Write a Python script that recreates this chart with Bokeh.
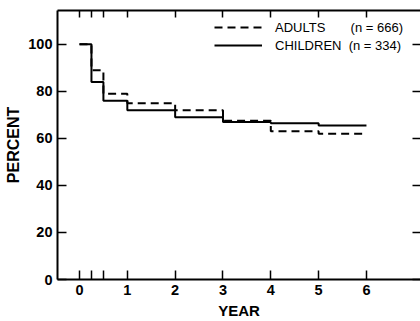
from bokeh.plotting import figure
from bokeh.models import LinearAxis, FixedTicker, Legend, LegendItem, Range1d
from bokeh.embed import file_html
from bokeh.resources import INLINE

# Data (Kaplan-Meier style step curves)
years = [0, 0.25, 0.5, 1, 2, 3, 4, 5, 6]
adults_pct = [100, 89, 79, 75, 72, 67.5, 63, 62, 62]
children_pct = [100, 84, 76, 72, 69, 67, 66.5, 65.5, 65.5]
x_ticks = [0, 0.25, 0.5, 1, 2, 3, 4, 5, 6]
x_labels = {0.25: "", 0.5: ""}
y_ticks = [0, 20, 40, 60, 80, 100]
adults_label = "ADULTS       (n = 666)"
children_label = "CHILDREN  (n = 334)"

FONT = "Liberation Sans"

p = figure(width=420, height=321, output_backend="svg", toolbar_location=None,
           x_range=Range1d(-0.46, 7.13), y_range=Range1d(0, 114.4),
           x_axis_location=None, y_axis_location=None,
           min_border_left=57, min_border_right=0, min_border_top=10, min_border_bottom=40)
p.outline_line_color = None
p.grid.visible = False
p.background_fill_color = "white"
p.border_fill_color = "white"

r_ad = p.step(years, adults_pct, mode="after", line_color="black", line_width=2,
              line_dash="8 5")
r_ch = p.step(years, children_pct, mode="after", line_color="black", line_width=2)

def style(ax, labels=True):
    ax.axis_line_color = "black"
    ax.axis_line_width = 2
    ax.major_tick_line_width = 1.5
    ax.major_tick_in = 9
    ax.major_tick_out = 0
    ax.minor_tick_line_color = None
    ax.major_label_text_font = FONT
    ax.major_label_text_font_style = "bold"
    ax.major_label_text_font_size = "14.5px"
    ax.major_label_text_color = "black"
    ax.major_label_standoff = 5 if labels else 0
    ax.axis_label_text_font = FONT
    ax.axis_label_text_font_style = "bold"
    ax.axis_label_text_font_size = "15px"
    ax.axis_label_text_color = "black"

xb = LinearAxis(ticker=FixedTicker(ticks=x_ticks), axis_label="YEAR",
                major_label_overrides=x_labels)
style(xb)
xb.axis_label_standoff = 4
p.add_layout(xb, "below")

xt = LinearAxis(ticker=FixedTicker(ticks=x_ticks),
                major_label_overrides={t: "" for t in x_ticks})
style(xt, labels=False)
xt.major_tick_in = 7
p.add_layout(xt, "above")

yl = LinearAxis(ticker=FixedTicker(ticks=y_ticks), axis_label="PERCENT")
style(yl)
yl.major_label_standoff = 5
yl.axis_label_standoff = 3
yl.axis_label_text_font_size = "16px"
p.add_layout(yl, "left")

yr = LinearAxis(ticker=FixedTicker(ticks=y_ticks),
                major_label_overrides={t: "" for t in y_ticks})
style(yr, labels=False)
yr.axis_line_color = None
yr.major_tick_in = 8
p.add_layout(yr, "right")

legend = Legend(items=[LegendItem(label=adults_label, renderers=[r_ad]),
                       LegendItem(label=children_label, renderers=[r_ch])],
                location=(157, 226), orientation="vertical",
                glyph_width=48, glyph_height=16, label_height=16, spacing=2,
                label_standoff=13, padding=0, margin=0,
                border_line_color=None, background_fill_alpha=0,
                label_text_font=FONT, label_text_font_size="13px",
                label_text_color="black")
p.add_layout(legend, "center")

open("out.html", "w").write(file_html(p, INLINE))
